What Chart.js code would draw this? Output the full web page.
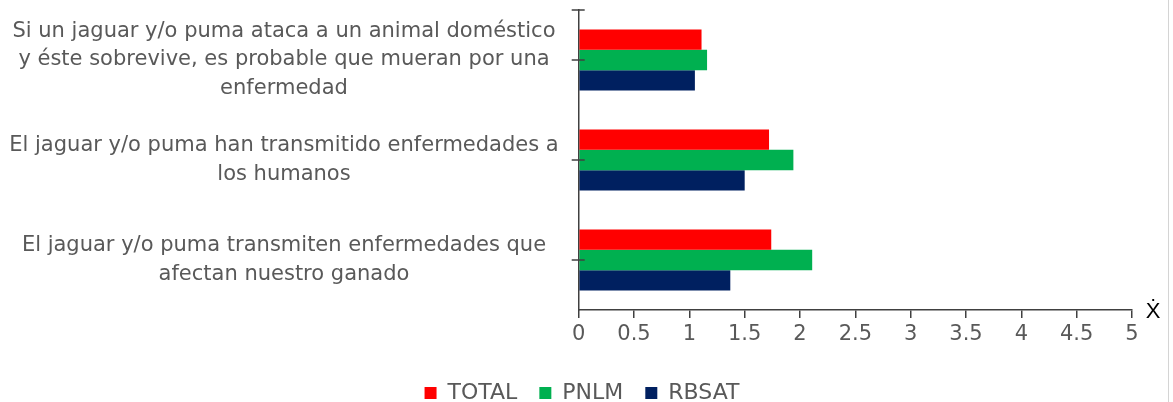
<!DOCTYPE html>
<html>
<head>
<meta charset="utf-8">
<script src="https://cdn.jsdelivr.net/npm/chart.js@4"></script>
<style>
  html, body { margin: 0; padding: 0; background: #fff; }
  #wrap { width: 1173px; height: 402px; position: relative; }
</style>
</head>
<body>
<div id="wrap"><canvas id="chart"></canvas></div>
<script>
const categories = [
  ["Si un jaguar y/o puma ataca a un animal doméstico", "y éste sobrevive, es probable que mueran por una", "enfermedad"],
  ["El jaguar y/o puma han transmitido enfermedades a", "los humanos"],
  ["El jaguar y/o puma transmiten enfermedades que", "afectan nuestro ganado"]
];
const totalValues = [1.11, 1.72, 1.74];
const pnlmValues = [1.16, 1.94, 2.11];
const rbsatValues = [1.05, 1.50, 1.37];
const xTicks = [0, 0.5, 1, 1.5, 2, 2.5, 3, 3.5, 4, 4.5, 5];

const textColor = "#595959";
const axisColor = "#404040";
const fontFamily = "'DejaVu Sans', sans-serif";

// axis extras: crossing tick marks on the category axis, the Ẋ label, right frame line
const extras = {
  id: "extras",
  beforeDraw(chart) {
    const ctx = chart.ctx;
    ctx.save();
    ctx.strokeStyle = "#d4d4d4";
    ctx.lineWidth = 1;
    ctx.beginPath();
    ctx.moveTo(1168.5, 0);
    ctx.lineTo(1168.5, chart.height);
    ctx.stroke();
    ctx.restore();
  },
  afterDraw(chart) {
    const ctx = chart.ctx;
    const y = chart.scales.y;
    const x = chart.scales.x;
    const x0 = x.getPixelForValue(0);
    ctx.save();
    ctx.strokeStyle = axisColor;
    ctx.lineWidth = 1.5;
    ctx.beginPath();
    const ys = [y.top];
    for (let i = 0; i < categories.length; i++) ys.push(y.getPixelForTick(i));
    ys.forEach(py => {
      ctx.moveTo(x0 - 7, py);
      ctx.lineTo(x0 + 6, py);
    });
    ctx.stroke();
    ctx.fillStyle = "#000";
    ctx.font = "22px 'Liberation Sans', Arial, sans-serif";
    ctx.textAlign = "center";
    ctx.textBaseline = "alphabetic";
    ctx.fillText("Ẋ", x.right + 21, x.top + 8);
    ctx.restore();
  }
};

new Chart(document.getElementById("chart"), {
  type: "bar",
  data: {
    labels: categories,
    datasets: [
      { label: "TOTAL", data: totalValues, backgroundColor: "#FF0000" },
      { label: "PNLM", data: pnlmValues, backgroundColor: "#00B050" },
      { label: "RBSAT", data: rbsatValues, backgroundColor: "#002060" }
    ]
  },
  options: {
    indexAxis: "y",
    responsive: true,
    maintainAspectRatio: false,
    animation: false,
    categoryPercentage: 0.61,
    barPercentage: 1,
    layout: { padding: { top: 10, right: 9, left: 0, bottom: -12 } },
    scales: {
      x: {
        min: 0,
        max: 5,
        afterBuildTicks(scale) { scale.ticks = xTicks.map(v => ({ value: v })); },
        afterFit(scale) {
          scale.height = 50;
          scale.paddingRight = 41;
        },
        grid: { drawOnChartArea: false, tickLength: 8, color: axisColor, lineWidth: 1.5 },
        border: { color: axisColor, width: 1.5 },
        ticks: {
          color: textColor,
          padding: 4,
          font: { family: fontFamily, size: 21 },
          callback: v => String(v)
        }
      },
      y: {
        afterFit(scale) {
          scale.width = 578.7;
          scale.paddingTop = 0;
          scale.paddingBottom = 0;
        },
        grid: { display: false, drawTicks: false },
        border: { color: axisColor, width: 1.5 },
        ticks: {
          color: textColor,
          padding: 20,
          crossAlign: "center",
          font: { family: fontFamily, size: 21, lineHeight: 1.36 }
        }
      }
    },
    plugins: {
      legend: {
        position: "bottom",
        labels: {
          boxWidth: 12,
          boxHeight: 12,
          padding: 22,
          color: textColor,
          font: { family: fontFamily, size: 22 }
        }
      },
      tooltip: { enabled: false }
    }
  },
  plugins: [extras]
});
</script>
</body>
</html>
